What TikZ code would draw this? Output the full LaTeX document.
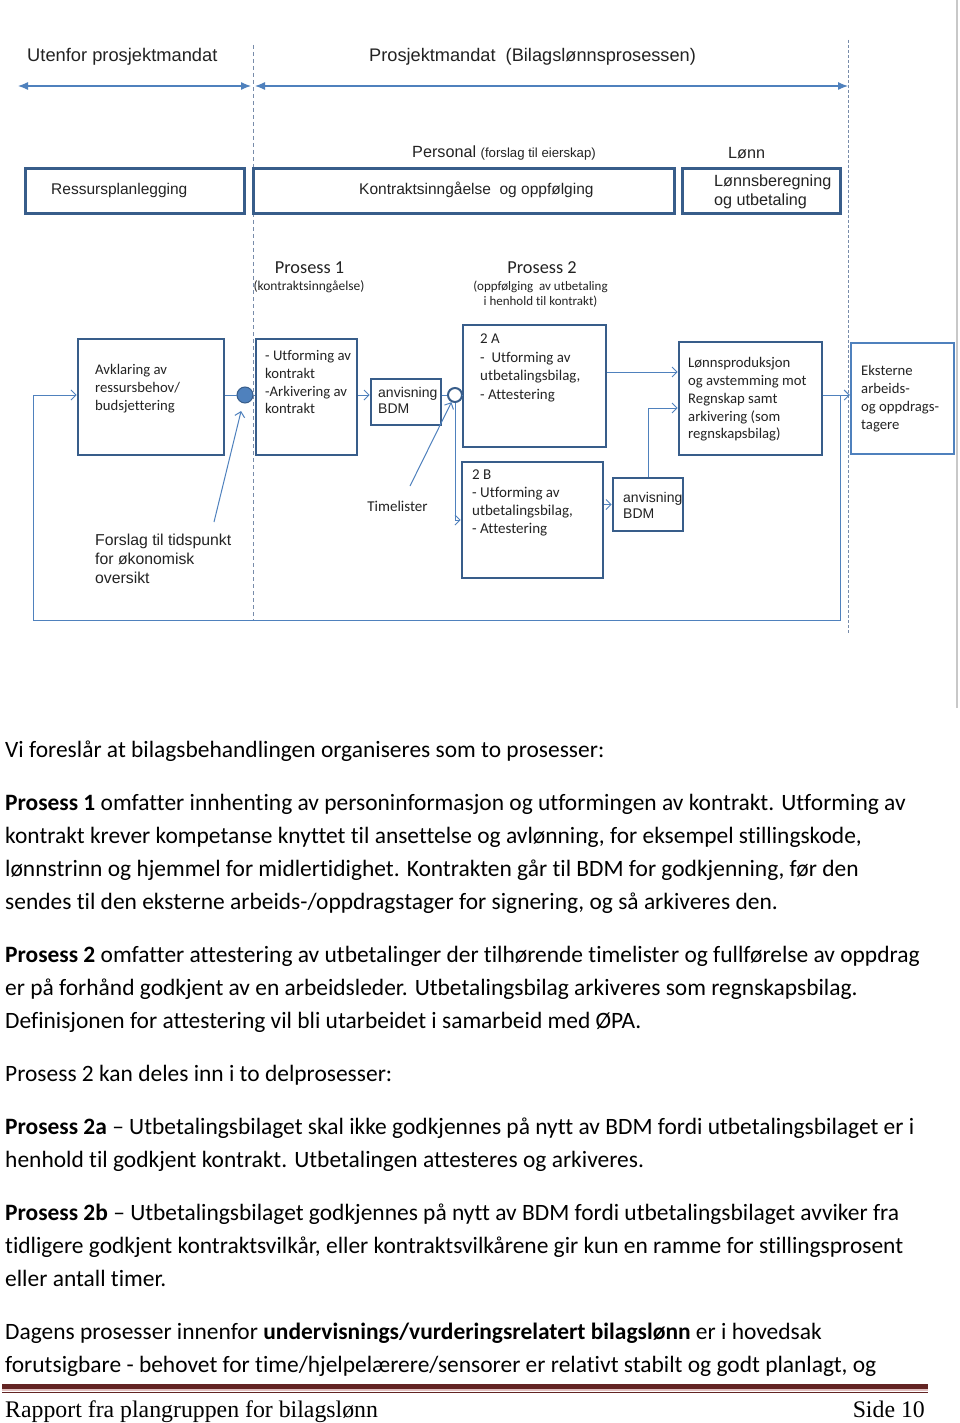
\documentclass[tikz,border=0pt]{standalone}
\usepackage{fontspec}
\setmainfont{Carlito}[Ligatures=NoCommon]
\newfontfamily\arial{Liberation Sans}
\newfontfamily\footf{Liberation Serif}
\usetikzlibrary{arrows.meta,calc}
\definecolor{boxc}{RGB}{56,93,138}
\definecolor{linec}{RGB}{79,129,189}
\definecolor{dashc}{RGB}{120,140,170}
\definecolor{footred}{RGB}{99,36,35}
\definecolor{footpink}{RGB}{225,190,190}
\definecolor{txtc}{RGB}{35,35,35}
\definecolor{bordg}{RGB}{200,200,200}
\newcommand{\bodyf}{\fontsize{23.45}{33}\selectfont}
\begin{document}
\begin{tikzpicture}[x=1pt,y=-1pt,
  box/.style={draw=boxc, line width=2.6, fill=white, inner sep=0},
  lbox/.style={draw=linec, line width=2.2, fill=white, inner sep=0},
  conn/.style={draw=linec, line width=1},
  arr/.style={conn, -{Straight Barb[length=5,width=10]}},
  bigarr/.style={draw=linec, line width=1.2, {Latex[length=10,width=8]}-{Latex[length=10,width=8]}},
  vdash/.style={draw=dashc, line width=1, dash pattern=on 4 off 3},
  dt/.style={font=\fontsize{14.7}{17.7}\selectfont, text=txtc, align=left, inner sep=0, anchor=north west},
  atx/.style={font=\arial\fontsize{15.5}{19}\selectfont, text=txtc, align=left, inner sep=0, anchor=north west},
  bt/.style={font=\bodyf, text=black, inner sep=0, anchor=base west}
]
\useasboundingbox (0,0) rectangle (960,1423);
\fill[white] (0,0) rectangle (960,1423);
% page border
\draw[bordg, line width=2] (957,0) -- (957,708);

% dashed separators
\coordinate (dl1) at (253,45); \coordinate (dl2) at (253,620);
\coordinate (dr1) at (848,40); \coordinate (dr2) at (848,634);
\draw[vdash] (dl1) -- (dl2);
\draw[vdash, dash pattern=on 3 off 2] (dr1) -- (dr2);

% header
\node[font=\arial\fontsize{18.3}{20}\selectfont, text=txtc, inner sep=0, anchor=west] (hUt) at (27,57) {Utenfor prosjektmandat};
\node[font=\arial\fontsize{18.2}{20}\selectfont, text=txtc, inner sep=0, anchor=west] (hPm) at (369,57) {Prosjektmandat\ \ (Bilagslønnsprosessen)};
\coordinate (a1) at (18,86); \coordinate (a2) at (251,86);
\coordinate (a3) at (255,86); \coordinate (a4) at (848,86);
\draw[bigarr] (a1) -- (a2);
\draw[bigarr] (a3) -- (a4);

\node[font=\arial\fontsize{16.2}{19}\selectfont, text=txtc, inner sep=0, anchor=west] (hPers) at (412,153) {Personal {\fontsize{13.2}{15}\selectfont (forslag til eierskap)}};
\node[font=\arial\fontsize{16.2}{19}\selectfont, text=txtc, inner sep=0, anchor=west] (hLonn) at (728,153) {Lønn};

% top row boxes
\node[box, minimum width=219, minimum height=45] (rp) at (135,191) {};
\node[atx, anchor=west] (rpT) at (51,190) {Ressursplanlegging};
\node[box, minimum width=421, minimum height=45] (ko) at (464,191) {};
\node[atx, anchor=west] (koT) at (359,190) {Kontraktsinngåelse\ \ og oppfølging};
\node[box, minimum width=158, minimum height=45] (lb) at (761.5,191) {};
\node[atx, font=\arial\fontsize{16.2}{19}\selectfont] (lbT) at (714,175) {Lønnsberegning\\og utbetaling};

% process titles
\node[font=\fontsize{18.3}{19}\selectfont, text=txtc, inner sep=0] (p1) at (309.5,268) {Prosess 1};
\node[font=\fontsize{13.5}{15}\selectfont, text=txtc, inner sep=0] (p1s) at (309,287) {(kontraktsinngåelse)};
\node[font=\fontsize{18.3}{19}\selectfont, text=txtc, inner sep=0] (p2) at (542,268) {Prosess 2};
\node[font=\fontsize{13}{15}\selectfont, text=txtc, inner sep=0, align=center] (p2s) at (540.5,294.5) {(oppfølging\ \ av utbetaling\\ i henhold til kontrakt)};

% process boxes
\node[box, minimum width=146, minimum height=116] (avk) at (151,397) {};
\node[dt] (avkT) at (95,364.5) {Avklaring av\\ressursbehov/\\budsjettering};

\node[box, minimum width=101, minimum height=116] (utf) at (306.5,397) {};
\node[dt] (utfT) at (265,350.5) {- Utforming av\\kontrakt\\-Arkivering av\\kontrakt};

\node[box, minimum width=70, minimum height=46] (anv1) at (406,402) {};
\node[atx, font=\arial\fontsize{14}{16}\selectfont] (anv1T) at (378,387) {anvisning\\BDM};

\node[box, minimum width=143, minimum height=122] (a2b) at (534.5,386) {};
\node[dt, font=\fontsize{14.9}{18.5}\selectfont] (a2T) at (480,334) {2 A\\-\ \ Utforming av\\utbetalingsbilag,\\- Attestering};

\node[box, minimum width=141, minimum height=116] (b2b) at (532.5,520) {};
\node[dt, font=\fontsize{15}{17.8}\selectfont] (b2T) at (472,470) {2 B\\- Utforming av\\utbetalingsbilag,\\- Attestering};

\node[box, minimum width=70, minimum height=53] (anv2) at (648,504.5) {};
\node[atx, font=\arial\fontsize{14}{16}\selectfont] (anv2T) at (623,492) {anvisning\\BDM};

\node[box, minimum width=143, minimum height=113] (lp) at (750.5,398.5) {};
\node[dt] (lpT) at (688,357.5) {Lønnsproduksjon\\og avstemming mot\\Regnskap samt\\arkivering (som\\regnskapsbilag)};

\node[lbox, minimum width=103, minimum height=111] (ek) at (902.5,398.5) {};
\node[dt] (ekT) at (861,365.5) {Eksterne\\arbeids-\\og oppdrags-\\tagere};

% circles
\node[circle, fill=linec, draw=boxc, line width=1, minimum size=16, inner sep=0] (fc) at (245,395) {};
\node[circle, fill=white, draw=boxc, line width=2, minimum size=14, inner sep=0] (oc) at (455,395) {};

% labels
\node[font=\fontsize{15}{16}\selectfont, text=txtc, inner sep=0] (tl) at (397.5,506) {Timelister};
\node[atx, font=\arial\fontsize{15.8}{19}\selectfont] (fo) at (95,533.5) {Forslag til tidspunkt\\for økonomisk\\oversikt};

% connectors
\draw[conn] (avk.east |- fc) -- (fc);
\draw[conn] (fc) -- (utf.west |- fc);
\draw[arr] (utf.east |- fc) -- (anv1.west |- fc);
\draw[conn] (anv1.east |- oc) -- (oc);
\draw[conn] (oc) -- (a2b.west |- oc);
\draw[arr] (oc.south) |- (b2b.west);
\coordinate (tls) at (410,486);
\draw[arr] (tls) -- (oc);
\coordinate (fos) at (214,522);
\draw[arr, shorten >=8] (fos) -- (fc);
\coordinate (ya) at (0,372);
\draw[arr] (a2b.east |- ya) -- (lp.west |- ya);
\draw[arr] (b2b.east |- anv2.west) -- (anv2.west);
\coordinate (yb) at (0,408);
\draw[arr] (anv2.north) |- (lp.west |- yb);
\coordinate (yc) at (0,395);
\draw[arr] (lp.east |- yc) -- (ek.west |- yc);
\coordinate (lpj) at (840,395);
\coordinate (lbr) at (840,620);
\coordinate (lbl) at (33,620);
\draw[arr] (lpj) -- (lbr) -- (lbl) |- (avk.west |- yc);

% body text
\node[bt] (l1) at (5,757) {Vi foreslår at bilagsbehandlingen organiseres som to prosesser:};
\node[bt] (l2) at (5,810) {\textbf{Prosess 1} omfatter innhenting av personinformasjon og utformingen av kontrakt. Utforming av};
\node[bt] (l3) at (5,843) {kontrakt krever kompetanse knyttet til ansettelse og avlønning, for eksempel stillingskode,};
\node[bt] (l4) at (5,876) {lønnstrinn og hjemmel for midlertidighet. Kontrakten går til BDM for godkjenning, før den};
\node[bt] (l5) at (5,909) {sendes til den eksterne arbeids-/oppdragstager for signering, og så arkiveres den.};
\node[bt] (l6) at (5,962) {\textbf{Prosess 2} omfatter attestering av utbetalinger der tilhørende timelister og fullførelse av oppdrag};
\node[bt] (l7) at (5,995) {er på forhånd godkjent av en arbeidsleder. Utbetalingsbilag arkiveres som regnskapsbilag.};
\node[bt] (l8) at (5,1028) {Definisjonen for attestering vil bli utarbeidet i samarbeid med ØPA.};
\node[bt] (l9) at (5,1081) {Prosess 2 kan deles inn i to delprosesser:};
\node[bt] (l10) at (5,1134) {\textbf{Prosess 2a} – Utbetalingsbilaget skal ikke godkjennes på nytt av BDM fordi utbetalingsbilaget er i};
\node[bt] (l11) at (5,1167) {henhold til godkjent kontrakt. Utbetalingen attesteres og arkiveres.};
\node[bt] (l12) at (5,1220) {\textbf{Prosess 2b} – Utbetalingsbilaget godkjennes på nytt av BDM fordi utbetalingsbilaget avviker fra};
\node[bt] (l13) at (5,1253) {tidligere godkjent kontraktsvilkår, eller kontraktsvilkårene gir kun en ramme for stillingsprosent};
\node[bt] (l14) at (5,1286) {eller antall timer.};
\node[bt] (l15) at (5,1339) {Dagens prosesser innenfor \textbf{undervisnings/vurderingsrelatert bilagslønn} er i hovedsak};
\node[bt] (l16) at (5,1372) {forutsigbare - behovet for time/hjelpelærere/sensorer er relativt stabilt og godt planlagt, og};

% footer
\coordinate (f1) at (2,1386.5); \coordinate (f2) at (928,1386.5);
\coordinate (f3) at (2,1390.3); \coordinate (f4) at (928,1390.3);
\coordinate (f5) at (2,1392.3); \coordinate (f6) at (928,1392.3);
\draw[footred, line width=5] (f1) -- (f2);
\draw[footpink, line width=1.8] (f3) -- (f4);
\draw[footred, line width=1] (f5) -- (f6);
\node[font=\footf\fontsize{23.8}{26}\selectfont, inner sep=0, anchor=base west] (ft1) at (5,1417) {Rapport fra plangruppen for bilagslønn};
\node[font=\footf\fontsize{23.8}{26}\selectfont, inner sep=0, anchor=base east] (ft2) at (925,1417) {Side 10};
\end{tikzpicture}
\end{document}
